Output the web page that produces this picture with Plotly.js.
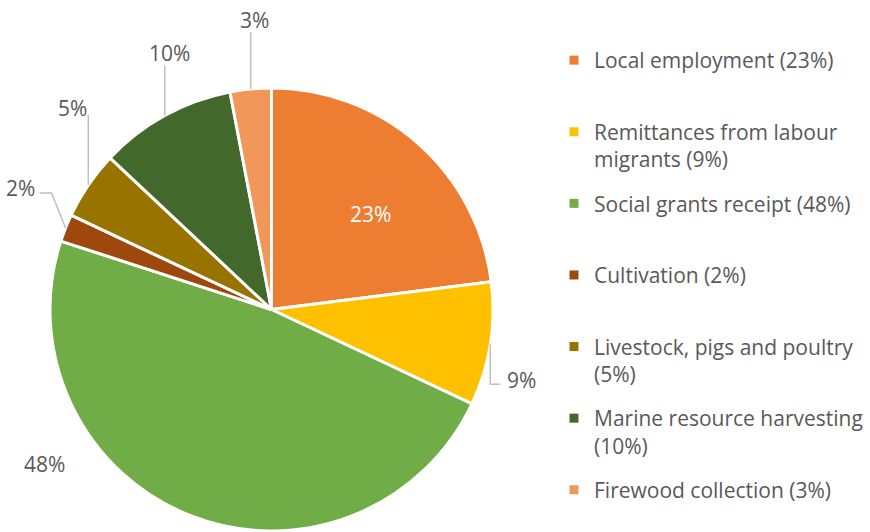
<!DOCTYPE html>
<html><head><meta charset="utf-8">
<script src="https://cdn.plot.ly/plotly-3.0.1.min.js"></script>
<style>html,body{margin:0;padding:0;background:#fff}#chart{width:870px;height:532px}</style>
</head><body><div id="chart"></div>
<script>
// ---- data ----
const categories = ['Local employment','Remittances from labour migrants','Social grants receipt','Cultivation','Livestock, pigs and poultry','Marine resource harvesting','Firewood collection'];
const values = [23, 9, 48, 2, 5, 10, 3];
const legendLabels = ['Local employment (23%)','Remittances from labour<br>migrants (9%)','Social grants receipt (48%)','Cultivation (2%)','Livestock, pigs and poultry<br>(5%)','Marine resource harvesting<br>(10%)','Firewood collection (3%)'];
const colors = ['#ED7D31','#FFC000','#70AD47','#9E480E','#997300','#43682B','#F1975A'];

// ---- layout / style ----
const W = 870, H = 532;
const CX = 271.5, CY = 309.5, R = 221.5;
const FONT = '"Open Sans", "Noto Sans", sans-serif';
const GREY = '#595959';
// label placement: rf = radius fraction of anchor point on the slice mid-angle,
// label = pixel offset of the text from that anchor, line = leader-line elbow offsets
const labelCfg = [
  {rf:0.62, label:[8,8], line:[], color:'#ffffff'},
  {rf:1, label:[31,36], line:[[0,40],[10,40]]},
  {rf:1, label:[-145,-51], line:[]},
  {rf:1, label:[-45,-40], line:[[-14,-35],[-26,-35]]},
  {rf:1, label:[-16,-77], line:[[0,-70]]},
  {rf:1, label:[5,-62], line:[[0,-50]]},
  {rf:1, label:[4,-69], line:[[0,-57]]}
];

const px = x => x / W, py = y => 1 - y / H;
const total = values.reduce((a,b)=>a+b,0);

const annotations = [], shapes = [];
let cum = 0;
values.forEach((v,i) => {
  const mid = (cum + v/2) / total * 2 * Math.PI;
  cum += v;
  const cfg = labelCfg[i];
  const ex = CX + cfg.rf * R * Math.sin(mid), ey = CY - cfg.rf * R * Math.cos(mid);
  annotations.push({
    x: px(ex + cfg.label[0]), y: py(ey + cfg.label[1]), xref:'paper', yref:'paper',
    text: v + '%', showarrow:false, xanchor:'center', yanchor:'middle',
    font:{family:FONT, size:21, color: cfg.color || GREY}
  });
  if (cfg.line.length) {
    let d = 'M' + px(ex) + ',' + py(ey);
    cfg.line.forEach(p => { d += ' L' + px(ex+p[0]) + ',' + py(ey+p[1]); });
    shapes.push({type:'path', xref:'paper', yref:'paper', path:d, line:{color:'#BFBFBF', width:1.5}});
  }
});

const pie = {
  type:'pie', labels: categories, values: values, sort:false, direction:'clockwise', rotation:0,
  marker:{colors: colors, line:{color:'#ffffff', width:3}},
  textinfo:'none',
  domain:{x:[px(CX-R), px(CX+R)], y:[py(CY+R), py(CY-R)]},
  hoverinfo:'label+percent', automargin:false, showlegend:false
};

// legend entries: one per slice, each padded to two lines (except the last)
const legendTraces = legendLabels.map((l,i) => {
  const n = l.split('<br>').length;
  const name = (i < legendLabels.length - 1 && n < 2) ? l + '<br> ' : l;
  return {type:'scatter', mode:'markers', x:[null], y:[null], name: name,
    legendgroup:'g'+i, showlegend:true,
    marker:{symbol:'square', size:9, color: colors[i]}};
});

const layout = {
  width:W, height:H, margin:{l:0,r:0,t:0,b:0}, paper_bgcolor:'#fff', plot_bgcolor:'rgba(0,0,0,0)',
  xaxis:{visible:false}, yaxis:{visible:false},
  showlegend:true,
  legend:{x:px(554), y:py(40), xanchor:'left', yanchor:'top', valign:'top', tracegroupgap:14,
    font:{family:FONT, size:21, color:GREY}, bgcolor:'rgba(0,0,0,0)', traceorder:'grouped'},
  annotations, shapes
};
Plotly.newPlot('chart', [pie].concat(legendTraces), layout, {displayModeBar:false, staticPlot:true});
</script></body></html>
